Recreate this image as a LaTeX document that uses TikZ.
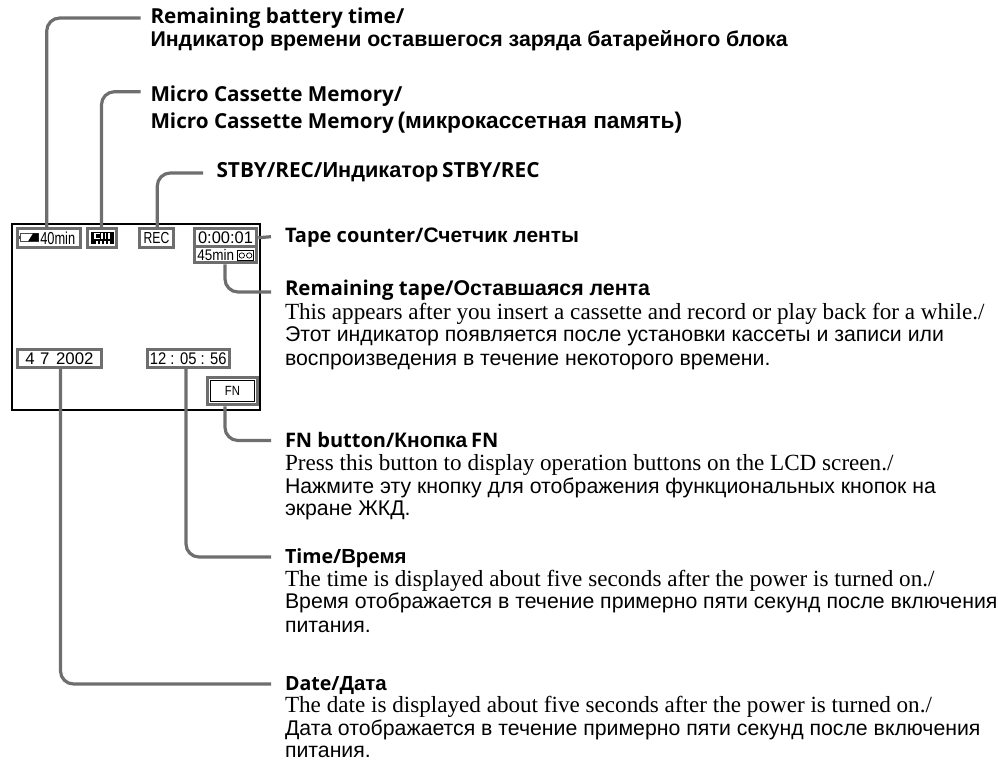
\documentclass[tikz,border=0pt]{standalone}
\usepackage{fontspec}
\setmainfont{Liberation Sans}
\newfontfamily\headlat{Open Sans}
\newfontfamily\bodylat{Liberation Serif}
\newcommand{\U}{0.75pt}
\newcommand{\HL}[2][15]{{\headlat\fontsize{#1pt}{18pt}\selectfont\bfseries #2}}
\newcommand{\HR}[2][15.7]{{\fontsize{#1pt}{18pt}\selectfont\bfseries #2}}
\newcommand{\BL}[1]{{\bodylat\fontsize{17.35pt}{20pt}\selectfont #1}}
\newcommand{\BR}[1]{{\fontsize{15.95pt}{20pt}\selectfont #1}}
\newcommand{\Nar}[2]{\scalebox{#1}[1]{#2}}
\tikzset{
  x=0.75pt,y=-0.75pt,
  conn/.style={draw=linegray,line width=3.2*\U,rounded corners=13*\U},
  ind/.style={draw=linegray,line width=3*\U,fill=white,inner sep=0pt,font=\fontsize{12.6pt}{14pt}\selectfont},
  txt/.style={anchor=base west,inner sep=0pt,outer sep=0pt},
}
\definecolor{linegray}{HTML}{6E6E6E}
\begin{document}
\begin{tikzpicture}
\useasboundingbox (0,0) rectangle (998,762);
% screen
\node[draw=black,line width=1.6*\U,minimum width=248*\U,minimum height=186*\U,inner sep=0pt] (screen) at (136,317) {};
% free ends
\coordinate (e1) at (140.5,18);
\coordinate (e2) at (140.5,91.7);
\coordinate (e3) at (203,173);
\coordinate (e4) at (271,236.7);
\coordinate (e5) at (271,292);
\coordinate (e6) at (271,440.5);
\coordinate (e7) at (271,557);
\coordinate (e8) at (271,684);
% indicators
\node[ind,minimum width=63*\U,minimum height=19*\U] (bat) at (49,238) {};
\node[ind,minimum width=29*\U,minimum height=19*\U] (mcm) at (101.5,238) {};
\node[ind,minimum width=34*\U,minimum height=19*\U] (rec) at (156.5,238) {\fontsize{12pt}{14pt}\selectfont\Nar{0.76}{REC}};
\node[ind,minimum width=62.6*\U,minimum height=18.5*\U] (cnt) at (225.5,237.75) {\Nar{0.98}{0:00:01}};
\node[ind,minimum width=62.6*\U,minimum height=16*\U] (tape) at (225.5,255) {};
\node[ind,minimum width=84*\U,minimum height=18*\U] (date) at (59.5,358.5) {4\hspace{4pt}7\hspace{5pt}2002};
\node[ind,minimum width=81.7*\U,minimum height=18*\U] (time) at (188.3,358.5) {\Nar{0.88}{12 : 05 : 56}};
\node[ind,minimum width=50*\U,minimum height=27.5*\U] (fnout) at (232.5,391) {};
\node[draw=black,line width=1*\U,fill=white,minimum width=44*\U,minimum height=21*\U,inner sep=0pt,font=\fontsize{10pt}{12pt}\selectfont] (fn) at (232.5,391) {\Nar{0.85}{FN}};
% battery content
\node[anchor=base west,inner sep=0pt,font=\fontsize{13pt}{14pt}\selectfont] (batt) at (40,245) {\Nar{0.74}{40min}};
\node[draw=black!70,line width=.6*\U,minimum width=18*\U,minimum height=8*\U,inner sep=0pt] (baticon) at (29.5,237.5) {};
\fill[black!70] (19.5,236.3) rectangle (18.5,238.7);
\fill[black] (28,241.5) -- (33,233.5) -- (38.5,233.5) -- (38.5,241.5) -- cycle;
% micro cassette icon
\node[fill=black,minimum width=23*\U,minimum height=12.5*\U,inner sep=0pt] (mcmicon) at (102.5,238) {};
\draw[white,line width=1.3*\U] (99.5,233.5) -- (95,233.5) -- (95,238.5) -- (99.5,238.5);
\draw[white,line width=1.5*\U] (102,233) -- (102,239) (105.5,233) -- (105.5,239) (109,233) -- (109,239);
\draw[white,line width=1.5*\U] (97,244.3) -- (97,241.5) (101,244.3) -- (101,241.5) (105,244.3) -- (105,241.5) (109,244.3) -- (109,241.5);
% tape content
\node[anchor=base west,inner sep=0pt,font=\fontsize{11.5pt}{14pt}\selectfont] (tapet) at (197,260.7) {\Nar{0.88}{45min}};
\node[draw=black,fill=white,line width=.9*\U,minimum width=16*\U,minimum height=10.5*\U,inner sep=0pt] (cass) at (245.5,255.5) {};
\draw[black,line width=.7*\U] (241.8,255.5) circle[radius=2.7] (249.2,255.5) circle[radius=2.7];
% connectors
\draw[conn] ([xshift=-2.3*\U]bat.north) |- (e1);
\draw[conn] (mcm.north) |- (e2);
\draw[conn] ([xshift=.8*\U]rec.north) |- (e3);
\draw[conn,sharp corners] (cnt.east) -- (e4);
\draw[conn] ([xshift=-.5*\U]tape.south) |- (e5);
\draw[conn] ([xshift=-7.5*\U]fnout.south) |- (e6);
\draw[conn] ([xshift=-2.3*\U]time.south) |- (e7);
\draw[conn] ([xshift=1*\U]date.south) |- (e8);
% labels
\node[txt] (l1a) at (150.5,23.5) {\HL[15.5]{Remaining battery time/}};
\node[txt] (l1b) at (150.5,46.7) {\HR[16]{Индикатор времени оставшегося заряда батарейного блока}};
\node[txt] (l2a) at (150.5,101.5) {\HL[15.5]{Micro Cassette Memory/}};
\node[txt] (l2b) at (150.5,128.5) {\HL[15.5]{Micro Cassette Memory} \HR[17]{(микрокассетная память)}};
\node[txt] (l3) at (216.5,177.7) {\HL[15.6]{STBY/REC/}\HR[16.3]{Индикатор} \HL[15.6]{STBY/REC}};
\node[txt] (l4) at (285,242.7) {\HL{Tape counter/}\HR{Счетчик ленты}};
\node[txt] (l5) at (285,296) {\HL[15.3]{Remaining tape/}\HR[16]{Оставшаяся лента}};
\node[txt] (l5a) at (285,320) {\BL{This appears after you insert a cassette and record or play back for a while./}};
\node[txt] (l5b) at (285,342) {\BR{Этот индикатор появляется после установки кассеты и записи или}};
\node[txt] (l5c) at (285,365) {\BR{воспроизведения в течение некоторого времени.}};
\node[txt] (l6) at (285,447.7) {\HL{FN button/}\HR{Кнопка} \HL{FN}};
\node[txt] (l6a) at (285,470) {\BL{Press this button to display operation buttons on the LCD screen./}};
\node[txt] (l6b) at (285,493) {\BR{Нажмите эту кнопку для отображения функциональных кнопок на}};
\node[txt] (l6c) at (285,515) {\BR{экране ЖКД.}};
\node[txt] (l7) at (285,563) {\HL[14.7]{Time/}\HR[15.3]{Время}};
\node[txt] (l7a) at (285,586.7) {\BL{The time is displayed about five seconds after the power is turned on./}};
\node[txt] (l7b) at (285,608.5) {\BR{Время отображается в течение примерно пяти секунд после включения}};
\node[txt] (l7c) at (285,632) {\BR{питания.}};
\node[txt] (l8) at (285,690) {\HL[14.7]{Date/}\HR[15.3]{Дата}};
\node[txt] (l8a) at (285,712) {\BL{The date is displayed about five seconds after the power is turned on./}};
\node[txt] (l8b) at (285,735) {\BR{Дата отображается в течение примерно пяти секунд после включения}};
\node[txt] (l8c) at (285,757) {\BR{питания.}};
\end{tikzpicture}
\end{document}
